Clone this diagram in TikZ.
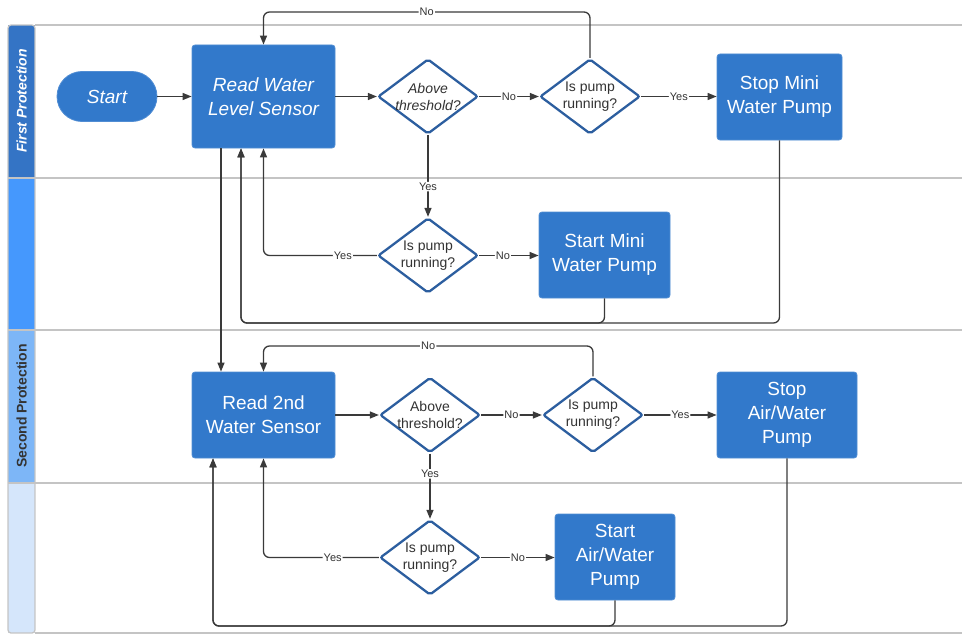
\documentclass[tikz,border=0pt]{standalone}
\usepackage{fontspec}
\setmainfont{Liberation Sans}
\usetikzlibrary{shapes.geometric,arrows.meta}
\definecolor{boxblue}{HTML}{3279CB}
\definecolor{decblue}{HTML}{2C5E9F}
\definecolor{textgrey}{HTML}{333333}
\definecolor{linegrey}{HTML}{3A3A3A}
\definecolor{lanegrey}{HTML}{C4C4C4}
\definecolor{hone}{HTML}{3474C5}
\definecolor{htwo}{HTML}{4598FD}
\definecolor{hthree}{HTML}{7DB6F7}
\definecolor{hfour}{HTML}{D5E6FB}
\tikzset{
  proc/.style={rectangle, rounded corners=3pt, fill=boxblue, draw=boxblue!85!white, line width=0.8pt,
    text=white, font=\fontsize{19}{24}\selectfont, align=center, inner sep=0pt},
  dec/.style={diamond, draw=decblue, line width=2.3pt, fill=white, minimum width=100pt,
    minimum height=75pt, inner sep=0pt, rounded corners=2pt},
  dtext/.style={font=\fontsize{14}{17}\selectfont, text=textgrey, align=center},
  ditext/.style={font=\fontsize{14}{17}\selectfont\itshape, text=textgrey, align=center},
  elab/.style={fill=white, font=\fontsize{11}{13}\selectfont, text=textgrey, inner sep=1pt},
  conn/.style={draw=linegrey, line width=1.3pt, rounded corners=6pt},
  arr/.style={conn, -{Triangle[length=9pt,width=7pt]}},
  lane/.style={draw=lanegrey, line width=1.3pt},
  lanetitle/.style={rotate=90, font=\fontsize{14}{16}\selectfont\bfseries}
}
\begin{document}
\begin{tikzpicture}[x=1pt,y=-1pt]
\useasboundingbox (0,0) rectangle (962,634);
% swimlanes
\fill[hone] (8,25) rectangle (35,178);
\fill[htwo] (8,178) rectangle (35,330);
\fill[hthree] (8,330) rectangle (35,483);
\fill[hfour] (8,483) rectangle (35,633);
\draw[lane] (35,25) -- (962,25);
\draw[lane] (8,178) -- (962,178);
\draw[lane] (8,330) -- (962,330);
\draw[lane] (8,483) -- (962,483);
\draw[lane] (35,633) -- (962,633);
\draw[lane, rounded corners=3pt] (35,25) -- (8,25) -- (8,633) -- (35,633) -- cycle;
\node[lanetitle, text=white, font=\fontsize{14}{16}\selectfont\bfseries\itshape] (l1) at (21.5,101) {First Protection};
\node[lanetitle, text=textgrey] (l2) at (21.5,406) {Second Protection};

% nodes
\node[proc, rounded corners=25pt, minimum width=100pt, minimum height=50pt, font=\fontsize{19}{24}\selectfont\itshape] (start) at (107,96.5) {Start};
\node[proc, minimum width=143pt, minimum height=103pt, font=\fontsize{19}{24}\selectfont\itshape] (r1) at (263.5,96.5) {Read Water\\Level Sensor};
\node[dec, label={[ditext]center:{Above\\threshold?}}] (a1) at (428,96.5) {};
\node[dec, label={[dtext]center:{Is pump\\running?}}] (p2) at (590,96.5) {};
\node[proc, minimum width=125pt, minimum height=86pt] (s1) at (779.5,97) {Stop Mini\\Water Pump};
\node[dec, label={[dtext]center:{Is pump\\running?}}] (p3) at (428,255.5) {};
\node[proc, minimum width=131pt, minimum height=86pt] (m1) at (604.5,255) {Start Mini\\Water Pump};

\node[proc, minimum width=143pt, minimum height=86pt] (r2) at (263.5,415) {Read 2nd\\Water Sensor};
\node[dec, label={[dtext]center:{Above\\threshold?}}] (a2) at (430,415) {};
\node[dec, label={[dtext]center:{Is pump\\running?}}] (p5) at (593,415) {};
\node[proc, minimum width=140pt, minimum height=86pt] (s2) at (787,415) {Stop\\Air/Water\\Pump};
\node[dec, label={[dtext]center:{Is pump\\running?}}] (p6) at (430,557.5) {};
\node[proc, minimum width=120pt, minimum height=86pt] (m2) at (615,557) {Start\\Air/Water\\Pump};

% helper coordinates
\coordinate (y12) at (0,12);
\coordinate (y323) at (0,323);
\coordinate (y346) at (0,346);
\coordinate (y626) at (0,626);
\coordinate (r1b2) at ([xshift=-22.5pt]r1.south);
\coordinate (r1b3) at ([xshift=-42.5pt]r1.south);
\coordinate (r2b) at ([xshift=-50.5pt]r2.south);

% first protection connectors
\draw[arr] (start) -- (r1);
\draw[arr] (r1) -- (a1);
\draw[arr] (a1) -- node[elab]{No} (p2);
\draw[arr] (p2.east) -- node[elab]{Yes} (p2.east -| s1.west);
\draw[arr] (p2.north) |- node[elab,pos=0.75]{No} (r1.north |- y12) -- (r1.north);
\draw[arr] (a1.south) -- node[elab,pos=0.63]{Yes} (p3.north);
\draw[arr] (p3.east) -- node[elab,pos=0.4]{No} (p3.east -| m1.west);
\draw[arr] (p3.west) -| node[elab,pos=0.15]{Yes} (r1.south);
\draw[arr] (m1.south) |- (r1b2 |- y323) -- (r1b2);
\draw[arr] (s1.south) |- (r1b2 |- y323) -- (r1b2);
\draw[arr] (r1b3) -- (r1b3 |- r2.north);

% second protection connectors
\draw[arr] (r2) -- (a2);
\draw[arr] (a2) -- node[elab]{No} (p5);
\draw[arr] (p5) -- node[elab]{Yes} (s2);
\draw[arr] (p5.north) |- node[elab,pos=0.75]{No} (r2.north |- y346) -- (r2.north);
\draw[arr] (a2.south) -- node[elab,pos=0.31]{Yes} (p6.north);
\draw[arr] (p6.east) -- node[elab,pos=0.5]{No} (p6.east -| m2.west);
\draw[arr] (p6.west) -| node[elab,pos=0.2]{Yes} (r2.south);
\draw[arr] (m2.south) |- (r2b |- y626) -- (r2b);
\draw[arr] (s2.south) |- (r2b |- y626) -- (r2b);
\end{tikzpicture}
\end{document}
